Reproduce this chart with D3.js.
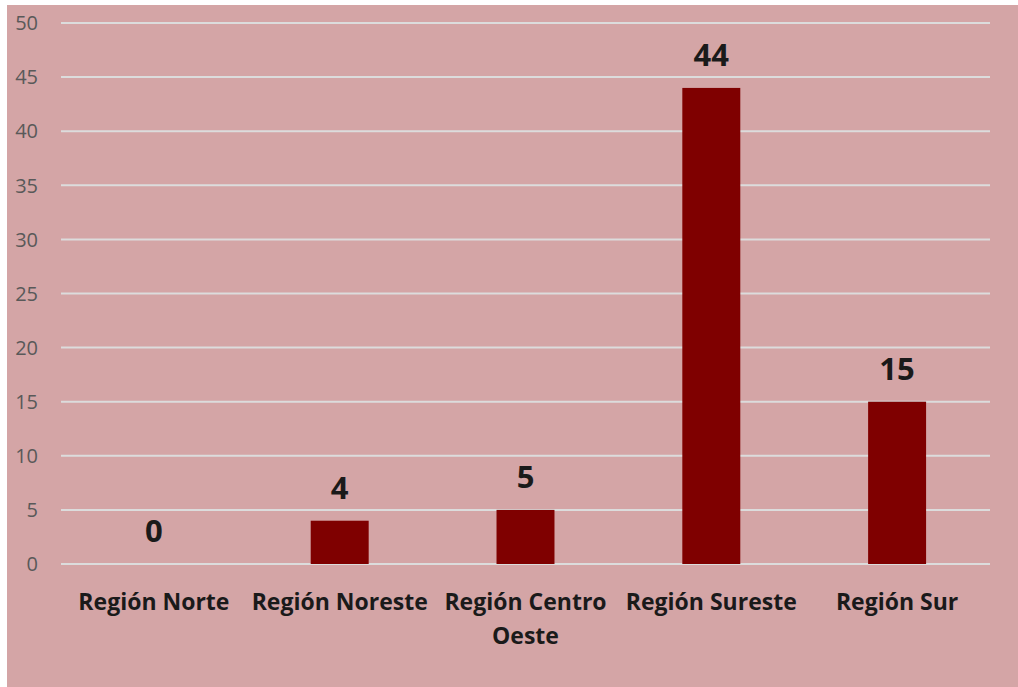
<!DOCTYPE html>
<html>
<head>
<meta charset="utf-8">
<script src="https://cdn.jsdelivr.net/npm/d3@7"></script>
<style>
  body { margin: 0; background: #fff; }
  svg { display: block; font-family: "Open Sans", sans-serif; }
</style>
</head>
<body>
<div id="chart"></div>
<script>
// data
const regions = ["Región Norte", "Región Noreste", "Región Centro Oeste", "Región Sureste", "Región Sur"];
const regionLines = [["Región Norte"], ["Región Noreste"], ["Región Centro", "Oeste"], ["Región Sureste"], ["Región Sur"]];
const values = [0, 4, 5, 44, 15];
const yTicks = [0, 5, 10, 15, 20, 25, 30, 35, 40, 45, 50];

const width = 1018;
const height = 687;

const svg = d3.select("#chart").append("svg")
  .attr("width", width)
  .attr("height", height);

// pink chart area
svg.append("rect")
  .attr("x", 7).attr("y", 5)
  .attr("width", width - 7).attr("height", height - 5)
  .attr("fill", "#d4a5a6");

const x = d3.scaleBand()
  .domain(regions)
  .range([61, 990])
  .paddingInner(0.688)
  .paddingOuter(0.344);

const y = d3.scaleLinear()
  .domain([0, 50])
  .range([564, 23]);

// gridlines
svg.append("g").selectAll("line")
  .data(yTicks)
  .enter().append("line")
  .attr("x1", 61).attr("x2", 990)
  .attr("y1", d => y(d)).attr("y2", d => y(d))
  .attr("stroke", "#dcdcdc")
  .attr("stroke-width", 2);

// y axis labels
svg.append("g").selectAll("text")
  .data(yTicks)
  .enter().append("text")
  .attr("x", 38)
  .attr("y", d => y(d))
  .attr("dy", "0.36em")
  .attr("text-anchor", "end")
  .attr("font-size", 20)
  .attr("fill", "#595959")
  .text(d => d);

// bars
svg.append("g").selectAll("rect")
  .data(values)
  .enter().append("rect")
  .attr("x", (d, i) => x(regions[i]))
  .attr("y", d => y(d))
  .attr("width", x.bandwidth())
  .attr("height", d => y(0) - y(d))
  .attr("fill", "#7f0000");

// value labels
svg.append("g").selectAll("text")
  .data(values)
  .enter().append("text")
  .attr("x", (d, i) => x(regions[i]) + x.bandwidth() / 2)
  .attr("y", d => y(d) - 22)
  .attr("text-anchor", "middle")
  .attr("font-size", 31)
  .attr("font-weight", "bold")
  .attr("fill", "#1a1a1a")
  .text(d => d);

// category labels
const cat = svg.append("g").selectAll("text")
  .data(regionLines)
  .enter().append("text")
  .attr("x", (d, i) => x(regions[i]) + x.bandwidth() / 2)
  .attr("y", 610)
  .attr("text-anchor", "middle")
  .attr("font-size", 23)
  .attr("font-weight", "bold")
  .attr("fill", "#1a1a1a");

cat.selectAll("tspan")
  .data(d => d)
  .enter().append("tspan")
  .attr("x", function () { return d3.select(this.parentNode).attr("x"); })
  .attr("dy", (d, i) => i === 0 ? 0 : 34)
  .text(d => d);
</script>
</body>
</html>
